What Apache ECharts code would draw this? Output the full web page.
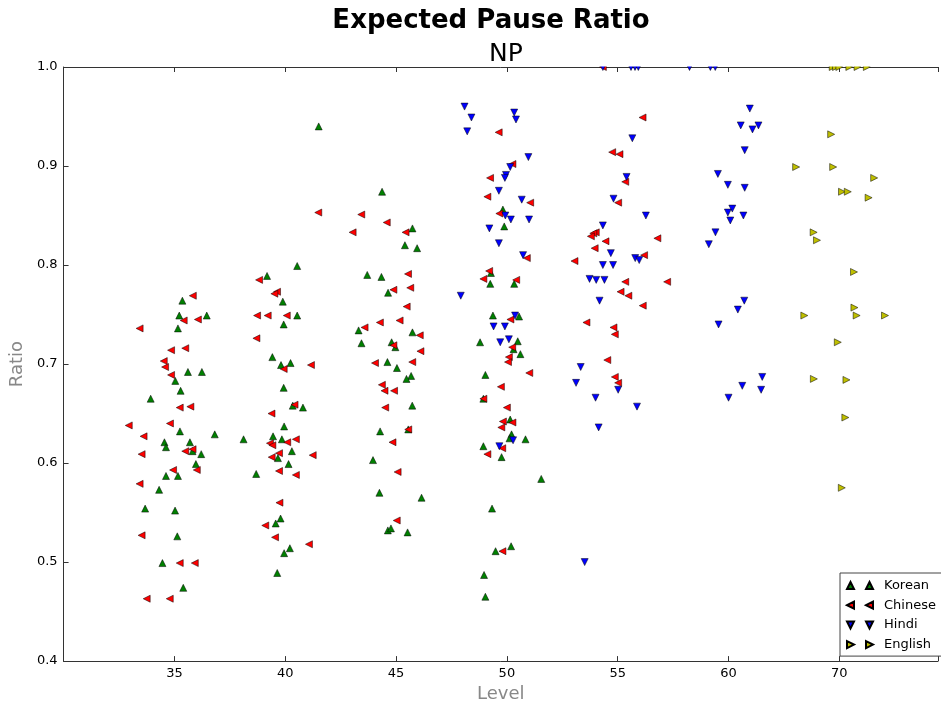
<!DOCTYPE html>
<html>
<head>
<meta charset="utf-8">
<script src="https://cdn.jsdelivr.net/npm/echarts@6/dist/echarts.min.js"></script>
<style>
  html, body { margin: 0; padding: 0; background: #fff; }
  #main { width: 941px; height: 708px; }
</style>
</head>
<body>
<div id="main"></div>
<script>
// tick positions on the level axis and the text printed under them
var tickValues = [35, 40, 45, 50, 55, 60, 65];
var tickLabels = ['35', '40', '45', '50', '55', '60', '70'];

// Korean
var koreanLevel = [
  35.36, 35.22, 36.46, 35.16, 35.61, 36.24, 35.04, 35.28, 33.93, 35.25, 36.82, 34.55, 34.62, 35.70, 35.82, 36.21, 35.97, 34.62, 35.16, 34.31, 33.68, 35.03, 35.13, 34.46, 35.40,
  41.51, 40.54, 39.18, 39.89, 40.54, 39.93, 39.42, 40.24, 39.81, 39.93, 40.34, 40.80, 39.95, 38.12, 39.45, 39.85, 40.30, 39.67, 40.15, 38.69, 39.79, 39.57, 40.21, 39.95, 39.64,
  44.37, 45.74, 45.40, 45.95, 43.70, 44.34, 44.64, 43.31, 45.74, 43.44, 44.80, 44.97, 44.61, 45.04, 45.68, 45.47, 45.73, 44.28, 45.55, 43.96, 44.25, 46.15, 44.63, 44.77, 45.52,
  49.82, 49.88, 49.28, 49.25, 50.33, 49.37, 50.55, 48.79, 50.49, 50.30, 50.61, 49.03, 48.94, 50.15, 50.21, 50.12, 50.84, 48.94, 49.76, 51.55, 49.33, 50.19, 49.49, 48.97, 49.03
];
var koreanRatio = [
  0.764, 0.749, 0.749, 0.736, 0.692, 0.692, 0.683, 0.673, 0.665, 0.632, 0.629, 0.621, 0.616, 0.621, 0.612, 0.609, 0.599, 0.587, 0.587, 0.573, 0.554, 0.552, 0.526, 0.499, 0.474,
  0.940, 0.799, 0.789, 0.763, 0.749, 0.740, 0.707, 0.701, 0.699, 0.676, 0.658, 0.656, 0.637, 0.624, 0.627, 0.624, 0.612, 0.605, 0.599, 0.589, 0.544, 0.539, 0.514, 0.509, 0.489,
  0.874, 0.837, 0.820, 0.817, 0.790, 0.788, 0.772, 0.734, 0.732, 0.721, 0.722, 0.717, 0.702, 0.696, 0.688, 0.685, 0.658, 0.632, 0.634, 0.603, 0.570, 0.565, 0.532, 0.534, 0.530,
  0.856, 0.839, 0.792, 0.781, 0.781, 0.749, 0.748, 0.722, 0.723, 0.715, 0.710, 0.689, 0.665, 0.644, 0.629, 0.625, 0.624, 0.617, 0.606, 0.584, 0.554, 0.516, 0.511, 0.487, 0.465
];

// Chinese
var chineseLevel = [
  35.83, 35.42, 36.06, 33.43, 34.85, 35.49, 34.52, 34.58, 34.85, 35.24, 35.72, 32.94, 34.80, 33.61, 35.49, 35.82, 33.52, 34.94, 36.01, 33.43, 33.52, 35.24, 35.92, 33.75, 34.79,
  41.49, 38.82, 39.63, 39.51, 38.73, 39.21, 40.07, 38.70, 39.93, 41.16, 40.42, 39.38, 39.31, 39.42, 40.09, 40.48, 39.72, 39.39, 41.24, 39.72, 40.48, 39.74, 39.10, 39.54, 41.07,
  43.43, 44.58, 43.04, 45.43, 45.54, 45.64, 44.88, 45.48, 44.27, 45.16, 43.58, 46.07, 44.88, 46.10, 44.05, 45.73, 44.36, 44.48, 44.91, 44.51, 45.55, 44.84, 45.07, 45.03,
  49.63, 50.25, 49.24, 49.12, 51.05, 49.66, 50.90, 49.20, 48.94, 50.42, 50.16, 50.24, 50.09, 50.05, 51.01, 49.73, 48.94, 50.00, 49.82, 50.25, 49.75, 49.79, 49.12, 49.80,
  54.33, 56.12, 54.75, 55.08, 55.34, 55.02, 54.01, 53.90, 53.79, 54.45, 56.79, 53.96, 56.19, 53.05, 55.34, 57.23, 55.13, 55.48, 53.59, 56.13, 54.81, 54.87, 54.53, 54.87, 55.02
];
var chineseRatio = [
  0.769, 0.744, 0.745, 0.736, 0.714, 0.716, 0.703, 0.697, 0.689, 0.656, 0.657, 0.638, 0.640, 0.627, 0.612, 0.614, 0.609, 0.593, 0.593, 0.579, 0.527, 0.499, 0.499, 0.463, 0.463,
  0.853, 0.785, 0.773, 0.771, 0.749, 0.749, 0.749, 0.726, 0.695, 0.699, 0.659, 0.650, 0.620, 0.618, 0.621, 0.624, 0.610, 0.606, 0.608, 0.592, 0.588, 0.560, 0.537, 0.525, 0.518,
  0.851, 0.843, 0.833, 0.833, 0.791, 0.777, 0.775, 0.758, 0.742, 0.744, 0.737, 0.729, 0.719, 0.713, 0.701, 0.702, 0.679, 0.673, 0.673, 0.656, 0.634, 0.621, 0.591, 0.542,
  0.934, 0.902, 0.888, 0.869, 0.863, 0.852, 0.807, 0.794, 0.786, 0.785, 0.745, 0.717, 0.707, 0.702, 0.691, 0.677, 0.665, 0.656, 0.642, 0.641, 0.636, 0.615, 0.609, 0.511,
  1.000, 0.949, 0.914, 0.912, 0.884, 0.863, 0.833, 0.832, 0.829, 0.824, 0.827, 0.817, 0.810, 0.804, 0.783, 0.783, 0.773, 0.769, 0.742, 0.759, 0.737, 0.730, 0.704, 0.687, 0.681
];

// Hindi
var hindiLevel = [
  48.09, 48.40, 48.21, 50.33, 50.41, 50.97, 50.15, 49.96, 49.91, 49.64, 50.67, 49.93, 50.18, 51.00, 49.21, 49.64, 50.73, 47.92, 50.37, 49.40, 49.91, 49.70, 50.09, 50.28, 49.66,
  54.33, 55.60, 55.78, 55.93, 55.66, 55.40, 54.81, 56.27, 54.33, 54.69, 55.79, 55.97, 54.33, 54.79, 53.73, 54.03, 54.40, 54.18, 53.33, 53.12, 55.02, 54.00, 55.87, 54.14, 53.51,
  58.24, 59.18, 59.40, 60.96, 60.55, 61.08, 61.35, 60.73, 59.52, 59.97, 60.73, 60.17, 59.97, 60.08, 60.67, 59.41, 59.11, 60.71, 60.42, 59.55, 61.52, 60.62, 61.47, 60.00
];
var hindiRatio = [
  0.960, 0.949, 0.935, 0.954, 0.947, 0.909, 0.899, 0.891, 0.888, 0.875, 0.866, 0.850, 0.846, 0.846, 0.837, 0.822, 0.810, 0.769, 0.749, 0.738, 0.738, 0.722, 0.725, 0.623, 0.617,
  1.000, 1.000, 1.000, 1.000, 0.928, 0.889, 0.867, 0.850, 0.840, 0.812, 0.807, 0.805, 0.800, 0.800, 0.786, 0.785, 0.785, 0.764, 0.697, 0.681, 0.674, 0.666, 0.657, 0.636, 0.500,
  1.000, 1.000, 1.000, 0.958, 0.941, 0.937, 0.941, 0.916, 0.892, 0.881, 0.878, 0.857, 0.853, 0.845, 0.850, 0.833, 0.821, 0.764, 0.755, 0.740, 0.687, 0.678, 0.674, 0.666
];

// English
var englishLevel = [
  64.70, 64.85, 65.00, 65.45, 65.82, 66.24, 64.63, 63.05, 64.72, 66.57, 65.12, 65.38, 66.32,
  63.84, 63.99, 65.66, 65.68, 63.42, 65.78, 67.06, 64.93, 63.85, 65.32, 65.27, 65.11
];
var englishRatio = [
  1.000, 1.000, 1.000, 1.000, 1.000, 1.000, 0.932, 0.899, 0.899, 0.888, 0.874, 0.874, 0.868,
  0.833, 0.825, 0.793, 0.757, 0.749, 0.749, 0.749, 0.722, 0.685, 0.684, 0.646, 0.575
];

function zip(xs, ys) {
  var out = [];
  for (var i = 0; i < xs.length; i++) out.push([xs[i], ys[i]]);
  return out;
}

// triangle markers like matplotlib ^ < v >
var triUp = 'path://M5,0L10,10L0,10Z';
var triLeft = 'path://M0,5L10,0L10,10Z';
var triDown = 'path://M0,0L10,0L5,10Z';
var triRight = 'path://M0,0L10,5L0,10Z';
// two markers per legend row
var legUp = 'path://M3.5,0L7,7L0,7ZM22.5,0L26,7L19,7Z';
var legLeft = 'path://M0,3.5L7,0L7,7ZM19,3.5L26,0L26,7Z';
var legDown = 'path://M0,0L7,0L3.5,7ZM19,0L26,0L22.5,7Z';
var legRight = 'path://M0,0L7,3.5L0,7ZM19,0L26,3.5L19,7Z';

var font = 'DejaVu Sans';
var axisColor = '#333';

function mkSeries(name, sym, color, xs, ys) {
  return {
    name: name,
    type: 'scatter',
    symbol: sym,
    symbolSize: 7,
    itemStyle: { color: color, borderColor: '#000', borderWidth: 0.5, opacity: 1 },
    emphasis: { disabled: true },
    data: zip(xs, ys)
  };
}

var chart = echarts.init(document.getElementById('main'));
var option = {
  animation: false,
  backgroundColor: '#fff',
  title: [
    {
      text: 'Expected Pause Ratio',
      left: 491, top: 8, padding: 0, textAlign: 'center',
      textStyle: { fontFamily: font, fontSize: 26, fontWeight: 'bold', color: '#000' }
    },
    {
      text: 'NP',
      left: 506, top: 42, padding: 0, textAlign: 'center',
      textStyle: { fontFamily: font, fontSize: 25, fontWeight: 'normal', color: '#000' }
    }
  ],
  legend: {
    orient: 'vertical',
    left: 840, top: 573,
    itemWidth: 26, itemHeight: 7, itemGap: 6.7,
    padding: [6, 60, 5, 6],
    borderColor: '#444', borderWidth: 1, backgroundColor: '#fff',
    textStyle: { fontFamily: font, fontSize: 13, color: '#000', padding: [0, 0, 0, 6] },
    data: [
      { name: 'Korean', icon: legUp },
      { name: 'Chinese', icon: legLeft },
      { name: 'Hindi', icon: legDown },
      { name: 'English', icon: legRight }
    ]
  },
  grid: { left: 61, top: 67, right: 0, bottom: 43 },
  // hides the upper half of markers sitting on 1.0, as the clipped axes do
  graphic: [{
    type: 'rect', z: 100, silent: true,
    shape: { x: 540, y: 54, width: 401, height: 12.5 },
    style: { fill: '#fff' }
  }],
  xAxis: [
    {
      type: 'value', position: 'bottom', min: 30, max: 69.45, interval: 5,
      name: 'Level', nameLocation: 'middle', nameGap: 22,
      nameTextStyle: { fontFamily: font, fontSize: 18, color: '#888' },
      axisLine: { lineStyle: { color: axisColor, width: 1 } },
      axisTick: { inside: true, length: 5, lineStyle: { color: axisColor } },
      splitLine: { show: false },
      axisLabel: {
        fontFamily: font, fontSize: 13, color: '#000', margin: 6,
        formatter: function (v) {
          var i = tickValues.indexOf(v);
          return i >= 0 ? tickLabels[i] : '';
        }
      }
    },
    {
      type: 'value', position: 'top', min: 30, max: 69.45, interval: 5,
      axisLine: { lineStyle: { color: axisColor, width: 1 } },
      axisTick: { inside: true, length: 5, lineStyle: { color: axisColor } },
      axisLabel: { show: false },
      splitLine: { show: false }
    }
  ],
  yAxis: {
    type: 'value', min: 0.4, max: 1.0, interval: 0.1,
    name: 'Ratio', nameLocation: 'middle', nameGap: 20, nameRotate: 90,
    nameTextStyle: { fontFamily: font, fontSize: 18, color: '#888' },
    axisLine: { show: true, lineStyle: { color: axisColor, width: 1 } },
    axisTick: { show: true, inside: true, length: 5, lineStyle: { color: axisColor } },
    splitLine: { show: false },
    axisLabel: {
      fontFamily: font, fontSize: 13, color: '#000', margin: 6,
      formatter: function (v) { return v.toFixed(1); }
    }
  },
  series: [
    mkSeries('Korean', triUp, '#008000', koreanLevel, koreanRatio),
    mkSeries('Chinese', triLeft, '#ff0000', chineseLevel, chineseRatio),
    mkSeries('Hindi', triDown, '#0000ff', hindiLevel, hindiRatio),
    mkSeries('English', triRight, '#bfbf00', englishLevel, englishRatio)
  ]
};
chart.setOption(option);
</script>
</body>
</html>
